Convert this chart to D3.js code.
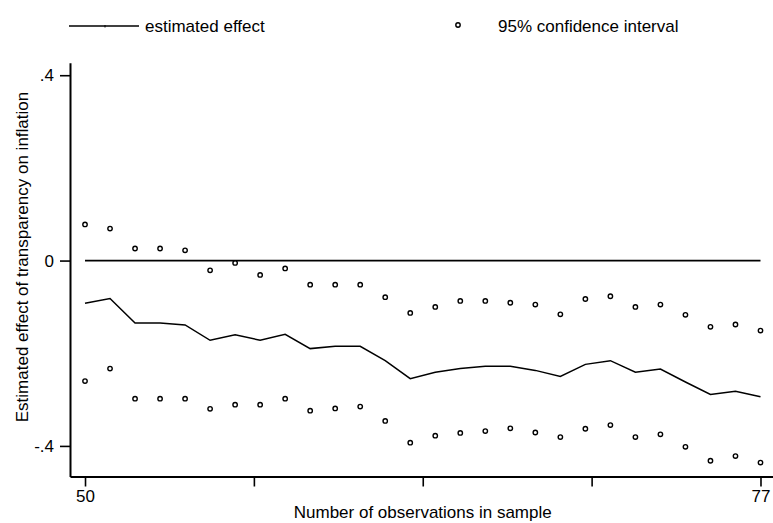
<!DOCTYPE html>
<html lang="en">
<head>
<meta charset="UTF-8">
<title>Estimated effect of transparency on inflation</title>
<script src="https://cdn.jsdelivr.net/npm/d3@7"></script>
<style>
  body { margin: 0; background: #fff; }
  text { font-family: "Liberation Sans", Arial, Helvetica, sans-serif; fill: #000; }
</style>
</head>
<body>
<div id="chart"></div>
<script>
// sample sizes 50..77
var obs = [50,51,52,53,54,55,56,57,58,59,60,61,62,63,64,65,66,67,68,69,70,71,72,73,74,75,76,77];

var estimate = [-0.092,-0.082,-0.135,-0.135,-0.139,-0.172,-0.160,-0.172,-0.159,-0.190,
                -0.185,-0.185,-0.216,-0.255,-0.241,-0.233,-0.228,-0.228,-0.237,-0.250,
                -0.224,-0.216,-0.241,-0.234,-0.262,-0.289,-0.282,-0.294];

var upper = [0.078,0.069,0.026,0.026,0.022,-0.021,-0.005,-0.031,-0.017,-0.052,
             -0.052,-0.052,-0.079,-0.113,-0.100,-0.087,-0.087,-0.091,-0.095,-0.116,
             -0.083,-0.077,-0.100,-0.095,-0.117,-0.143,-0.138,-0.151];

var lower = [-0.260,-0.233,-0.298,-0.298,-0.298,-0.320,-0.311,-0.311,-0.298,-0.324,
             -0.319,-0.315,-0.346,-0.393,-0.378,-0.372,-0.368,-0.362,-0.371,-0.381,
             -0.363,-0.355,-0.381,-0.375,-0.402,-0.432,-0.422,-0.436];

var xTicks = [50, 56.75, 63.5, 70.25, 77];
var xLabels = {50: "50", 77: "77"};
var yTicks = [-0.4, 0, 0.4];
var yLabels = {"-0.4": "-.4", "0": "0", "0.4": ".4"};

var W = 773, H = 523;
var svg = d3.select("#chart").append("svg")
    .attr("width", W).attr("height", H);

var x = d3.scaleLinear().domain([49.4, 77.5]).range([70, 773]);
var y = d3.scaleLinear().domain([-0.466, 0.427]).range([476.5, 62.7]);

// axes
var yAxis = d3.axisLeft(y).tickValues(yTicks).tickSize(10).tickSizeOuter(0)
    .tickFormat(function(d) { return yLabels[String(d)]; });
var gy = svg.append("g").attr("transform", "translate(70,0)").call(yAxis);

var xAxis = d3.axisBottom(x).tickValues(xTicks).tickSize(10).tickSizeOuter(0)
    .tickFormat(function(d) { return xLabels[d] || ""; });
var gx = svg.append("g").attr("transform", "translate(0,476.5)").call(xAxis);

[gx, gy].forEach(function(g) {
  g.select(".domain").attr("stroke", "#000").attr("stroke-width", 2);
  g.selectAll(".tick line").attr("stroke", "#000").attr("stroke-width", 1.6);
  g.selectAll(".tick text").style("font-size", "17px")
    .style("font-family", "'Liberation Sans', Arial, sans-serif").attr("fill", "#000");
});
gy.selectAll(".tick text").attr("x", -16);
gx.selectAll(".tick text").attr("y", 13);

// zero reference line
svg.append("line")
    .attr("x1", x(50)).attr("x2", x(77))
    .attr("y1", y(0)).attr("y2", y(0))
    .attr("stroke", "#000").attr("stroke-width", 1.8);

// estimated effect line
var line = d3.line()
    .x(function(d, i) { return x(obs[i]); })
    .y(function(d) { return y(d); });

svg.append("path")
    .datum(estimate)
    .attr("d", line)
    .attr("fill", "none")
    .attr("stroke", "#000")
    .attr("stroke-width", 1.5)
    .attr("stroke-linejoin", "miter");

// confidence interval markers
var ci = upper.concat(lower);
svg.append("g").selectAll("circle")
    .data(ci)
    .enter()
    .append("circle")
    .attr("cx", function(d, i) { return x(obs[i % obs.length]); })
    .attr("cy", function(d) { return y(d); })
    .attr("r", 2.2)
    .attr("fill", "#fff")
    .attr("stroke", "#000")
    .attr("stroke-width", 1.4);

// axis titles
svg.append("text")
    .attr("x", x(63.5)).attr("y", 518)
    .attr("text-anchor", "middle")
    .style("font-size", "17px")
    .text("Number of observations in sample");

svg.append("text")
    .attr("transform", "translate(28,257) rotate(-90)")
    .attr("text-anchor", "middle")
    .style("font-size", "17px")
    .text("Estimated effect of transparency on inflation");

// legend
var leg = svg.append("g");
leg.append("line")
    .attr("x1", 69).attr("x2", 139).attr("y1", 26).attr("y2", 26)
    .attr("stroke", "#000").attr("stroke-width", 1.5);
leg.append("line")
    .attr("x1", 105).attr("x2", 105).attr("y1", 25).attr("y2", 27.5)
    .attr("stroke", "#000").attr("stroke-width", 1);
leg.append("text")
    .attr("x", 145).attr("y", 32)
    .style("font-size", "17px")
    .text("estimated effect");
leg.append("circle")
    .attr("cx", 458).attr("cy", 25).attr("r", 2.2)
    .attr("fill", "#fff").attr("stroke", "#000").attr("stroke-width", 1.4);
leg.append("text")
    .attr("x", 498).attr("y", 32)
    .style("font-size", "17px")
    .text("95% confidence interval");
</script>
</body>
</html>
